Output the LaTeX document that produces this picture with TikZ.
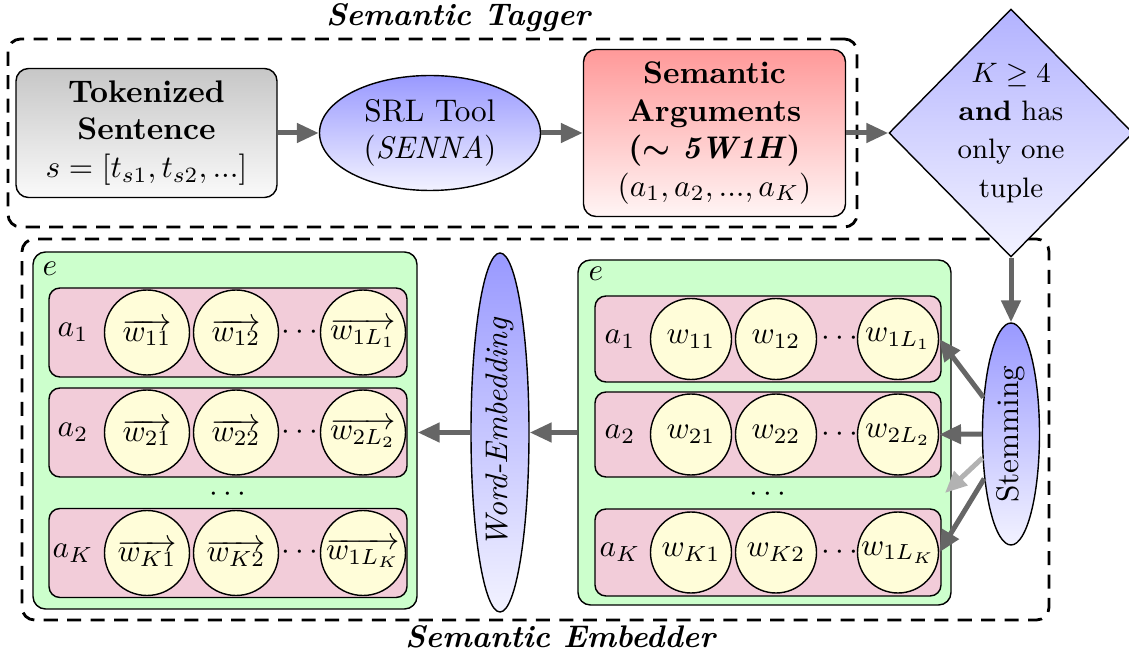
\documentclass[tikz,border=0pt]{standalone}
\usepackage{graphicx}
\usetikzlibrary{shapes.geometric,arrows.meta}
\newcommand\pxu{0.32pt}
\begin{document}
\begin{tikzpicture}[x=0.32pt,y=-0.32pt,
  arr/.style={color=black!60, line width=1.6pt, -{Triangle[length=7pt,width=6pt]}},
  grp/.style={draw, line width=0.9pt, dash pattern=on 4.5pt off 3pt, rounded corners=4pt, inner sep=0pt},
  box/.style={draw, line width=0.45pt, rounded corners=4pt, align=center, inner sep=0pt},
  blob/.style={ellipse, draw, line width=0.45pt, top color=blue!40, bottom color=blue!5, inner sep=0pt, align=center},
  panel/.style={draw, line width=0.45pt, rounded corners=4pt, fill=green!20, inner sep=0pt},
  argrow/.style={draw, line width=0.45pt, rounded corners=3.5pt, fill=purple!20, inner sep=0pt},
  word/.style={circle, draw, line width=0.45pt, fill=yellow!15, inner sep=0pt},
  wordL/.style={word, minimum size=85*\pxu},
  wordR/.style={word, minimum size=81*\pxu}]
\useasboundingbox (0,0) rectangle (1129,655);

% group frames and their titles
\node[grp, minimum width=849*\pxu, minimum height=188*\pxu] (tagger) at (432.5,133) {};
\node (taggertitle) at (459,18) {\textbf{\textit{Semantic Tagger}}};
\node[grp, minimum width=1027*\pxu, minimum height=381*\pxu] (embedder) at (535.5,429.5) {};
\node (embeddertitle) at (561,637) {\textbf{\textit{Semantic Embedder}}};

% tagging pipeline
\node[box, top color=black!22, bottom color=black!2, minimum width=261*\pxu, minimum height=129*\pxu]
  (tok) at (146.5,133) {\textbf{Tokenized}\\ \textbf{Sentence}\\ $s=[t_{s1},t_{s2},...]$};
\node[blob, minimum width=221*\pxu, minimum height=115*\pxu] (srl) at (430,133) {SRL Tool\\(\textit{SENNA})};
\node[box, top color=red!40, bottom color=red!4, minimum width=262*\pxu, minimum height=167*\pxu]
  (args) at (714.5,133) {\textbf{Semantic}\\ \textbf{Arguments}\\ \textbf{({\boldmath$\sim$} \textit{5W1H})}\\ $(a_1,a_2,...,a_K)$};
\node[diamond, draw, line width=0.45pt, top color=blue!30, bottom color=blue!5, inner sep=0pt,
  minimum width=244*\pxu, minimum height=248*\pxu] (cond) at (1011,133) {};
\node[align=center, font=\fontsize{9}{12.2}\selectfont] (condtext) at (1011,133)
  {$K\geq 4$\\ \textbf{and} has\\ only one\\ tuple};

\draw[arr] (tok) -- (srl);
\draw[arr] (srl) -- (args);
\draw[arr] (args.east) -- (cond.west);

% stemmed words
\node[panel, minimum width=373*\pxu, minimum height=345*\pxu] (rp) at (764.5,432.5) {};
\node (re) at (596,274) {$e$};
\foreach \r/\y/\h/\i in {1/339/86/1, 2/434.5/85/2, 3/552.5/87/K}{
  \node[argrow, minimum width=346*\pxu, minimum height=\h*\pxu] (R\r) at (768,\y) {};
  \node (Ra\r) at (620,\y) {$a_{\i}$};
  \node[wordR] (R\r c1) at (691,\y) {$w_{\i 1}$};
  \node[wordR] (R\r c2) at (776,\y) {$w_{\i 2}$};
  \node (Rd\r) at (840,\y) {$\cdots$};
}
\node[wordR] (R1c3) at (898,339) {$w_{1L_1}$};
\node[wordR] (R2c3) at (898,434.5) {$w_{2L_2}$};
\node[wordR] (R3c3) at (898,552.5) {$w_{1L_K}$};
\node (Rdots) at (768,495) {$\cdots$};

% embedded words
\node[panel, minimum width=384*\pxu, minimum height=357*\pxu] (lp) at (225,430.5) {};
\node (le) at (50,269) {$e$};
\foreach \r/\y/\i in {1/332.5/1, 2/432.5/2, 3/553/K}{
  \node[argrow, minimum width=358*\pxu, minimum height=89*\pxu] (L\r) at (228,\y) {};
  \node (La\r) at (73,\y) {$a_{\i}$};
  \node[wordL] (L\r c1) at (147,\y) {$\overrightarrow{w_{\i 1}}$};
  \node[wordL] (L\r c2) at (236,\y) {$\overrightarrow{w_{\i 2}}$};
  \node (Ld\r) at (300,\y) {$\cdots$};
}
\node[wordL] (L1c3) at (363,332.5) {$\overrightarrow{w_{1L_1}}$};
\node[wordL] (L2c3) at (363,432.5) {$\overrightarrow{w_{2L_2}}$};
\node[wordL] (L3c3) at (363,553) {$\overrightarrow{w_{1L_K}}$};
\node (Ldots) at (228,495) {$\cdots$};

% processing steps of the embedder
\node[blob, minimum width=57*\pxu, minimum height=222*\pxu] (stem) at (1011,434) {\rotatebox{90}{Stemming}};
\node[blob, minimum width=58*\pxu, minimum height=359*\pxu] (we) at (500,432.5) {\rotatebox{90}{\textit{Word-Embedding}}};

\draw[arr] (cond.south) -- (stem.north);
\draw[arr] (stem.127) -- (R1c3.east);
\draw[arr] (stem.west) -- (R2c3.east);
\coordinate (fade) at (945,493);
\draw[arr, color=black!30] (stem.220) -- (fade);
\draw[arr] (stem.239) -- (R3c3.east);
\draw[arr] (rp.west) -- (we.east);
\draw[arr] (we.west) -- (we.west -| lp.east);
\end{tikzpicture}
\end{document}
